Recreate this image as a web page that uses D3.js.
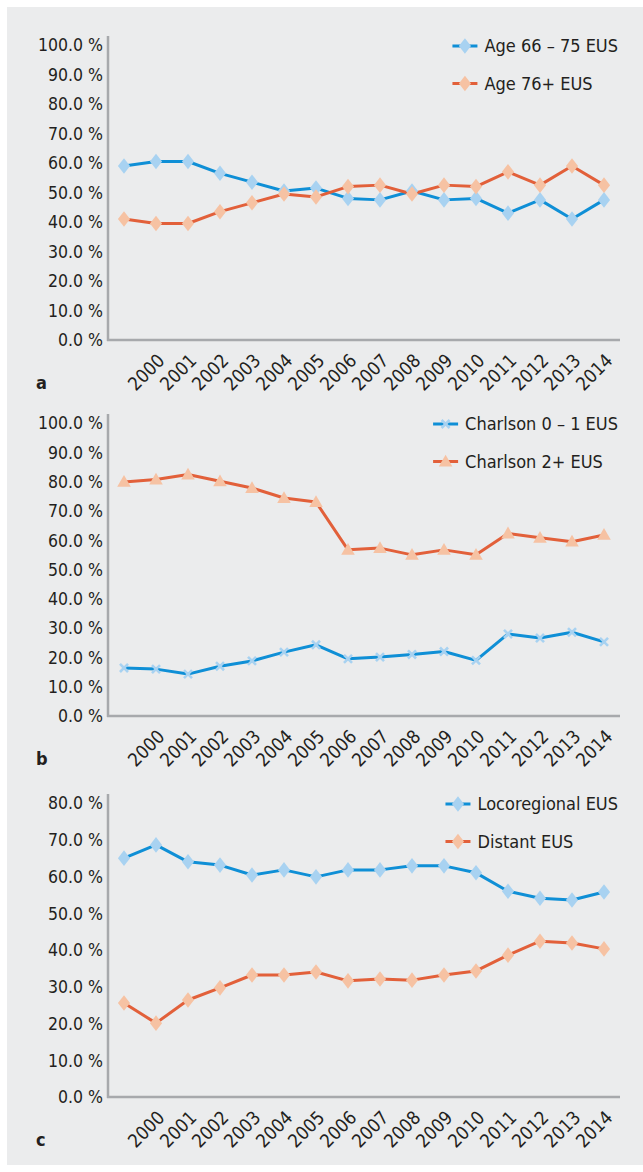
<!DOCTYPE html>
<html>
<head>
<meta charset="utf-8">
<script src="https://cdn.jsdelivr.net/npm/d3@7"></script>
<style>
  body { margin: 0; background: #fff; }
  svg text { font-family: "Liberation Sans Narrow", "DejaVu Sans Condensed", "Roboto Condensed", sans-serif; fill: #231f20; }
</style>
</head>
<body>
<svg id="chart" width="643" height="1172"></svg>
<script>
// categories (first slot has no label in the original)
const years = ["", "2000", "2001", "2002", "2003", "2004", "2005", "2006", "2007",
               "2008", "2009", "2010", "2011", "2012", "2013", "2014"];

// panel a
const age6675 = [59, 60.5, 60.5, 56.5, 53.5, 50.5, 51.5, 48, 47.5, 50.5, 47.5, 48, 43, 47.5, 41, 47.5];
const age76 = [41, 39.5, 39.5, 43.5, 46.5, 49.5, 48.5, 52, 52.5, 49.5, 52.5, 52, 57, 52.5, 59, 52.5];
const ticksA = [0, 10, 20, 30, 40, 50, 60, 70, 80, 90, 100];

// panel b
const charlson01 = [16.4, 16, 14.3, 17, 18.8, 21.8, 24.3, 19.5, 20.1, 21, 22, 19, 28, 26.6, 28.6, 25.3];
const charlson2 = [79.9, 80.7, 82.4, 80.1, 77.8, 74.4, 73, 56.7, 57.3, 55, 56.7, 55, 62.3, 60.8, 59.5, 61.8];
const ticksB = [0, 10, 20, 30, 40, 50, 60, 70, 80, 90, 100];

// panel c
const locoregional = [65, 68.6, 64, 63.1, 60.4, 61.8, 59.9, 61.8, 61.8, 62.9, 62.9, 61, 56, 54.1, 53.6, 55.8];
const distant = [25.6, 20.1, 26.4, 29.7, 33.2, 33.2, 34, 31.6, 32.1, 31.8, 33.2, 34.3, 38.6, 42.4, 41.9, 40.3];
const ticksC = [0, 10, 20, 30, 40, 50, 60, 70, 80];

const BLUE = "#0f8fd6", BLUE_M = "#a8d2f1";
const ORANGE = "#e2603a", ORANGE_M = "#f6c2a3";

const svg = d3.select("#chart");

svg.append("rect")
    .attr("x", 7).attr("y", 7)
    .attr("width", 636).attr("height", 1158)
    .attr("fill", "#ebeced");

const panels = [
    { letter: "a", top: 45, bottom: 340, ticks: ticksA,
      series: [
        { name: "Age 66 \u2013 75 EUS", values: age6675, color: BLUE, mcolor: BLUE_M, marker: "diamond" },
        { name: "Age 76+ EUS", values: age76, color: ORANGE, mcolor: ORANGE_M, marker: "diamond" }
      ] },
    { letter: "b", top: 423, bottom: 716, ticks: ticksB,
      series: [
        { name: "Charlson 0 \u2013 1 EUS", values: charlson01, color: BLUE, mcolor: BLUE_M, marker: "x" },
        { name: "Charlson 2+ EUS", values: charlson2, color: ORANGE, mcolor: ORANGE_M, marker: "triangle" }
      ] },
    { letter: "c", top: 803, bottom: 1097, ticks: ticksC,
      series: [
        { name: "Locoregional EUS", values: locoregional, color: BLUE, mcolor: BLUE_M, marker: "diamond" },
        { name: "Distant EUS", values: distant, color: ORANGE, mcolor: ORANGE_M, marker: "diamond" }
      ] }
];

const x = d3.scaleBand()
    .domain(years.map((d, i) => i))
    .range([108, 620])
    .padding(0);

function drawMarker(g, type, mcolor, cx, cy) {
    if (type === "diamond") {
        g.append("path")
            .attr("d", d3.symbol().type(d3.symbolDiamond).size(70)())
            .attr("transform", `translate(${cx},${cy}) scale(1.35,1)`)
            .attr("fill", mcolor);
    } else if (type === "triangle") {
        g.append("path")
            .attr("d", d3.symbol().type(d3.symbolTriangle).size(80)())
            .attr("transform", `translate(${cx},${cy + 1})`)
            .attr("fill", mcolor);
    } else {
        g.append("path")
            .attr("d", d3.symbol().type(d3.symbolX).size(44)())
            .attr("transform", `translate(${cx},${cy})`)
            .attr("fill", "none")
            .attr("stroke", mcolor)
            .attr("stroke-width", 2.6);
    }
}

panels.forEach(p => {
    const maxV = d3.max(p.ticks);
    const y = d3.scaleLinear().domain([0, maxV]).range([p.bottom, p.top]);
    const g = svg.append("g");

    // y tick labels
    g.selectAll(".ytick")
        .data(p.ticks)
        .join("text")
        .attr("x", 103)
        .attr("y", d => y(d))
        .attr("dy", "0.36em")
        .attr("text-anchor", "end")
        .attr("font-size", 17.5)
        .text(d => d.toFixed(1) + " %");

    // lines
    p.series.forEach(s => {
        const line = d3.line()
            .x((d, i) => x(i) + x.bandwidth() / 2)
            .y(d => y(d));
        g.append("path")
            .datum(s.values)
            .attr("d", line)
            .attr("fill", "none")
            .attr("stroke", s.color)
            .attr("stroke-width", 3)
            .attr("stroke-linejoin", "round");
    });
    p.series.forEach(s => {
        s.values.forEach((v, i) => drawMarker(g, s.marker, s.mcolor, x(i) + x.bandwidth() / 2, y(v)));
    });

    // axes
    g.append("line")
        .attr("x1", 108).attr("x2", 108)
        .attr("y1", p.top - 9).attr("y2", p.bottom + 1)
        .attr("stroke", "#a7a9ac").attr("stroke-width", 2.5);
    g.append("line")
        .attr("x1", 107).attr("x2", 620)
        .attr("y1", p.bottom).attr("y2", p.bottom)
        .attr("stroke", "#a7a9ac").attr("stroke-width", 2.5);

    // x tick labels
    g.selectAll(".xtick")
        .data(years.map((d, i) => ({ label: d, i })).filter(d => d.label !== ""))
        .join("text")
        .attr("transform", d => `translate(${x(d.i) + x.bandwidth() / 2 + 5},${p.bottom + 17}) rotate(-45)`)
        .attr("dy", "0.36em")
        .attr("text-anchor", "end")
        .attr("font-size", 18.5)
        .text(d => d.label);

    // panel letter
    g.append("text")
        .attr("x", 36)
        .attr("y", p.bottom + 49)
        .attr("font-size", 18)
        .attr("font-weight", "bold")
        .text(p.letter);

    // legend
    const leg = g.append("g");
    const labels = p.series.map((s, k) => leg.append("text")
        .attr("y", p.top + 1 + k * 37.5)
        .attr("dy", "0.36em")
        .attr("font-size", 18)
        .text(s.name));
    const maxW = d3.max(labels, t => t.node().getComputedTextLength());
    const lx = 618 - maxW;
    labels.forEach(t => t.attr("x", lx));
    p.series.forEach((s, k) => {
        const ly = p.top + 1 + k * 37.5;
        leg.append("line")
            .attr("x1", lx - 32).attr("x2", lx - 7)
            .attr("y1", ly).attr("y2", ly)
            .attr("stroke", s.color).attr("stroke-width", 3);
        drawMarker(leg, s.marker, s.mcolor, lx - 19.5, ly);
    });
});
</script>
</body>
</html>
